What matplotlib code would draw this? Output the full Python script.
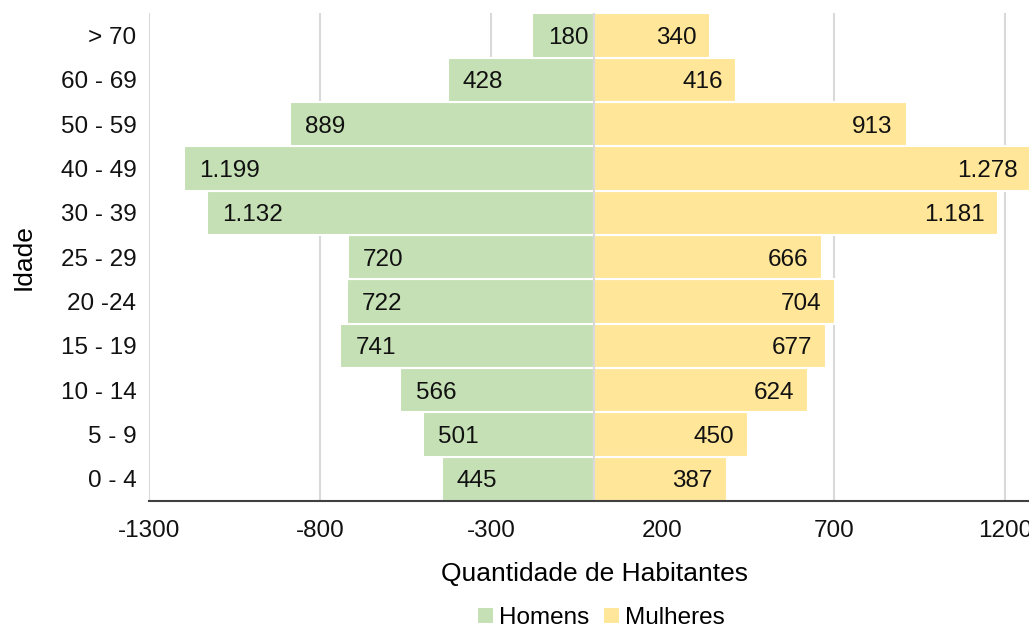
import matplotlib.pyplot as plt

plt.rcParams['font.family'] = ['Liberation Sans', 'DejaVu Sans']

faixas = ['0 - 4', '5 - 9', '10 - 14', '15 - 19', '20 -24', '25 - 29',
          '30 - 39', '40 - 49', '50 - 59', '60 - 69', '> 70']
homens = [445, 501, 566, 741, 722, 720, 1132, 1199, 889, 428, 180]
mulheres = [387, 450, 624, 677, 704, 666, 1181, 1278, 913, 416, 340]
xticks = [-1300, -800, -300, 200, 700, 1200]

cor_h = '#C5E0B4'
cor_m = '#FFE699'


def fmt(v):
    return f'{v:,}'.replace(',', '.')


fig = plt.figure(figsize=(10.29, 6.26), dpi=100)
ax = fig.add_axes([0.1448, 0.1997, 0.865, 0.779])

y = range(len(faixas))
bh = ax.barh(y, [-v for v in homens], height=1.0, color=cor_h,
             edgecolor='white', linewidth=1.5, label='Homens', zorder=2)
bm = ax.barh(y, mulheres, height=1.0, color=cor_m,
             edgecolor='white', linewidth=1.5, label='Mulheres', zorder=2)

for i, (h, m) in enumerate(zip(homens, mulheres)):
    ax.annotate(fmt(h), (-h, i), xytext=(11, 0), textcoords='offset points',
                ha='left', va='center_baseline', fontsize=17.5,
                color='#111111', zorder=3)
    ax.annotate(fmt(m), (m, i), xytext=(-10, 0), textcoords='offset points',
                ha='right', va='center_baseline', fontsize=17.5,
                color='#111111', zorder=3)

ax.set_xlim(-1300, 1300)
ax.set_ylim(-0.5, len(faixas) - 0.5)
ax.set_xticks(xticks)
ax.set_xticklabels([str(t) for t in xticks])
ax.set_yticks(list(y))
ax.set_yticklabels(faixas)
ax.tick_params(length=0, labelsize=17.5, colors='#111111')
ax.tick_params(axis='x', pad=14)
ax.tick_params(axis='y', pad=9)

ax.grid(axis='x', color='#d9d9d9', linewidth=1.5, zorder=0)
ax.axvline(0, color='#d9d9d9', linewidth=1.5, zorder=2.5)
for s in ['top', 'right', 'left']:
    ax.spines[s].set_visible(False)
ax.spines['bottom'].set_color('#404040')
ax.spines['bottom'].set_linewidth(1.5)

ax.set_xlabel('Quantidade de Habitantes', fontsize=19, labelpad=14)
ax.set_ylabel('Idade', fontsize=19, labelpad=18)

fig.legend(handles=[bh, bm], loc='lower center', bbox_to_anchor=(0.584, -0.04),
           ncol=2, frameon=False, fontsize=17.5, handlelength=0.7,
           handleheight=0.7, handletextpad=0.2, columnspacing=0.6)

fig.savefig('out.png', dpi=100)
